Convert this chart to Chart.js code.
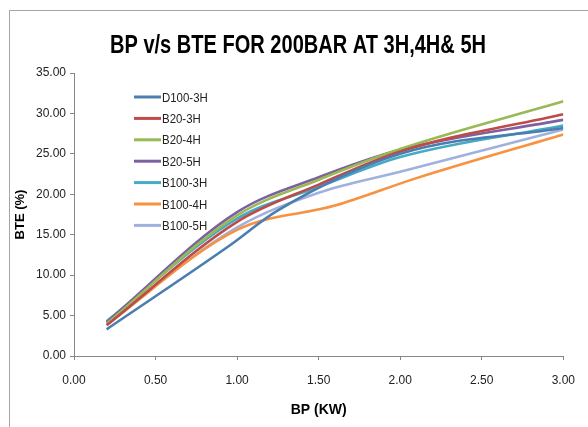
<!DOCTYPE html>
<html>
<head>
<meta charset="utf-8">
<script src="https://cdn.jsdelivr.net/npm/chart.js@4.4.0/dist/chart.umd.min.js"></script>
<style>
  html, body { margin: 0; padding: 0; background: #fff; overflow: hidden; }
  #wrap { position: relative; width: 588px; height: 427px; }
  #frame { position: absolute; left: 9px; top: 10px; width: 600px; height: 440px; border: 1px solid #a6a6a6; }
  canvas { position: absolute; left: 0; top: 0; }
</style>
</head>
<body>
<div id="wrap">
  <div id="frame"></div>
  <canvas id="myChart" width="588" height="427"></canvas>
</div>
<script>
// values
const seriesNames = ['D100-3H', 'B20-3H', 'B20-4H', 'B20-5H', 'B100-3H', 'B100-4H', 'B100-5H'];
const seriesColors = ['#4a7eb0', '#be4b48', '#98b954', '#7d60a0', '#46aac5', '#f69240', '#9fb1dc'];

const bpD100_3H = [0.2, 0.95, 1.25, 2.0, 3.0];
const bteD100_3H = [3.3, 13.6, 18.0, 25.0, 28.2];

const bpB20_3H = [0.2, 1.0, 1.5, 2.0, 3.0];
const bteB20_3H = [3.8, 16.6, 21.2, 25.3, 29.9];

const bpB20_4H = [0.2, 1.0, 1.5, 2.0, 3.0];
const bteB20_4H = [4.0, 17.4, 21.8, 25.6, 31.5];

const bpB20_5H = [0.2, 1.0, 1.5, 2.0, 3.0];
const bteB20_5H = [4.2, 17.8, 22.1, 25.5, 29.2];

const bpB100_3H = [0.2, 1.0, 1.5, 2.0, 3.0];
const bteB100_3H = [4.3, 17.0, 20.9, 24.6, 28.5];

const bpB100_4H = [0.2, 1.0, 1.6, 2.1, 3.0];
const bteB100_4H = [3.9, 15.6, 18.6, 22.0, 27.4];

const bpB100_5H = [0.2, 1.0, 1.5, 2.0, 3.0];
const bteB100_5H = [4.1, 15.9, 20.2, 22.8, 28.0];

const xTicks = [0, 0.5, 1, 1.5, 2, 2.5, 3];
const yTicks = [0, 5, 10, 15, 20, 25, 30, 35];

const allBp = [bpD100_3H, bpB20_3H, bpB20_4H, bpB20_5H, bpB100_3H, bpB100_4H, bpB100_5H];
const allBte = [bteD100_3H, bteB20_3H, bteB20_4H, bteB20_5H, bteB100_3H, bteB100_4H, bteB100_5H];

const baseFont = "'Liberation Sans', Arial, sans-serif";

function toPoints(xs, ys) {
    return xs.map((x, i) => ({ x: x, y: ys[i] }));
}

const datasets = seriesNames.map((name, i) => ({
    label: name,
    data: toPoints(allBp[i], allBte[i]),
    borderColor: seriesColors[i],
    backgroundColor: seriesColors[i],
    borderWidth: 2.6,
    pointRadius: 0,
    showLine: true,
    cubicInterpolationMode: 'monotone',
    fill: false
}));

// draws text squeezed to look like the condensed font of the original
function narrowText(ctx, text, x, y, squeeze) {
    ctx.save();
    ctx.translate(x, y);
    ctx.scale(squeeze, 1);
    ctx.fillText(text, 0, 0);
    ctx.restore();
}

// title + legend drawn on the canvas
const chartDecor = {
    id: 'chartDecor',
    afterDraw(chart) {
        const ctx = chart.ctx;
        ctx.save();
        ctx.fillStyle = '#000';
        ctx.textAlign = 'center';
        ctx.textBaseline = 'middle';
        ctx.font = "bold 25px " + baseFont;
        const title = 'BP v/s BTE FOR 200BAR AT 3H,4H& 5H';
        const w = ctx.measureText(title).width;
        narrowText(ctx, title, 298, 46, 376 / w);

        ctx.font = "13px " + baseFont;
        ctx.textAlign = 'left';
        chart.data.datasets.forEach((ds, i) => {
            const y = 97 + i * 21.4;
            ctx.strokeStyle = ds.borderColor;
            ctx.lineWidth = 3;
            ctx.beginPath();
            ctx.moveTo(134, y);
            ctx.lineTo(161, y);
            ctx.stroke();
            ctx.fillStyle = '#222';
            narrowText(ctx, ds.label, 162, y + 1, 0.88);
        });
        ctx.restore();
    }
};

const ctx = document.getElementById('myChart').getContext('2d');
const myChart = new Chart(ctx, {
    type: 'scatter',
    data: { datasets: datasets },
    options: {
        responsive: false,
        animation: false,
        layout: { padding: { top: 73, right: 24, left: 0, bottom: 0 } },
        plugins: {
            legend: { display: false },
            title: { display: false },
            tooltip: { enabled: false }
        },
        scales: {
            x: {
                type: 'linear',
                min: 0,
                max: 3,
                afterFit: s => { s.height = 71; },
                afterBuildTicks: s => { s.ticks = xTicks.map(v => ({ value: v })); },
                grid: { drawOnChartArea: false, drawTicks: true, tickLength: 4, color: '#868686' },
                border: { color: '#868686', width: 1 },
                ticks: {
                    padding: 13,
                    color: '#222',
                    font: { family: baseFont, size: 12 },
                    callback: v => Number(v).toFixed(2)
                },
                title: {
                    display: true,
                    text: 'BP (KW)',
                    color: '#000',
                    font: { family: baseFont, size: 14, weight: 'bold' },
                    padding: { top: 0, bottom: 8 }
                }
            },
            y: {
                type: 'linear',
                min: 0,
                max: 35,
                afterFit: s => { s.width = 74; },
                afterBuildTicks: s => { s.ticks = yTicks.map(v => ({ value: v })); },
                grid: { drawOnChartArea: false, drawTicks: true, tickLength: 4, color: '#868686' },
                border: { color: '#868686', width: 1 },
                ticks: {
                    padding: 4,
                    color: '#222',
                    font: { family: baseFont, size: 12 },
                    callback: v => Number(v).toFixed(2)
                },
                title: {
                    display: true,
                    text: 'BTE (%)',
                    color: '#000',
                    font: { family: baseFont, size: 13, weight: 'bold' },
                    padding: { top: 13, bottom: 0 }
                }
            }
        }
    },
    plugins: [chartDecor]
});
</script>
</body>
</html>
